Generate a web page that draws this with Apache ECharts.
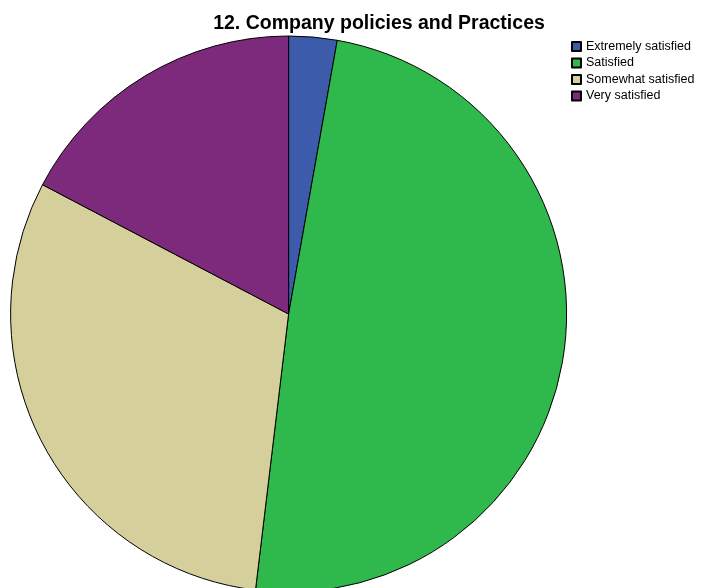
<!DOCTYPE html>
<html>
<head>
<meta charset="utf-8">
<script src="https://cdn.jsdelivr.net/npm/echarts@6/dist/echarts.min.js"></script>
<style>
  html, body { margin: 0; padding: 0; background: #fff; }
  #chart { width: 705px; height: 588px; }
</style>
</head>
<body>
<div id="chart"></div>
<script>
// Satisfaction with company policies and practices (percent of respondents)
const categories = ['Extremely satisfied', 'Satisfied', 'Somewhat satisfied', 'Very satisfied'];
const percents = [2.8, 49.1, 30.8, 17.3];
const colors = ['#3d5bab', '#2fb84b', '#d5cf9b', '#7d2a7c'];

const chart = echarts.init(document.getElementById('chart'), null, { renderer: 'canvas' });

chart.setOption({
  animation: false,
  backgroundColor: '#ffffff',
  title: {
    text: '12. Company policies and Practices',
    left: 374,
    textAlign: 'center',
    top: 9,
    textStyle: {
      fontFamily: 'Liberation Sans, Arial, sans-serif',
      fontWeight: 'bold',
      fontSize: 19.5,
      color: '#000'
    }
  },
  legend: {
    orient: 'vertical',
    left: 571,
    top: 40,
    icon: 'rect',
    itemWidth: 9,
    itemHeight: 9,
    itemGap: 3.5,
    padding: 0,
    data: categories,
    textStyle: {
      fontFamily: 'Liberation Sans, Arial, sans-serif',
      fontSize: 12.5,
      color: '#000',
      padding: [0, 0, 0, 0]
    }
  },
  series: [{
    type: 'pie',
    center: [288.6, 314],
    radius: 278,
    startAngle: 90,
    clockwise: true,
    label: { show: false },
    labelLine: { show: false },
    emphasis: { disabled: true },
    itemStyle: { borderColor: '#000', borderWidth: 1 },
    data: categories.map((name, i) => ({
      name,
      value: percents[i],
      itemStyle: { color: colors[i] }
    }))
  }]
});
</script>
</body>
</html>
